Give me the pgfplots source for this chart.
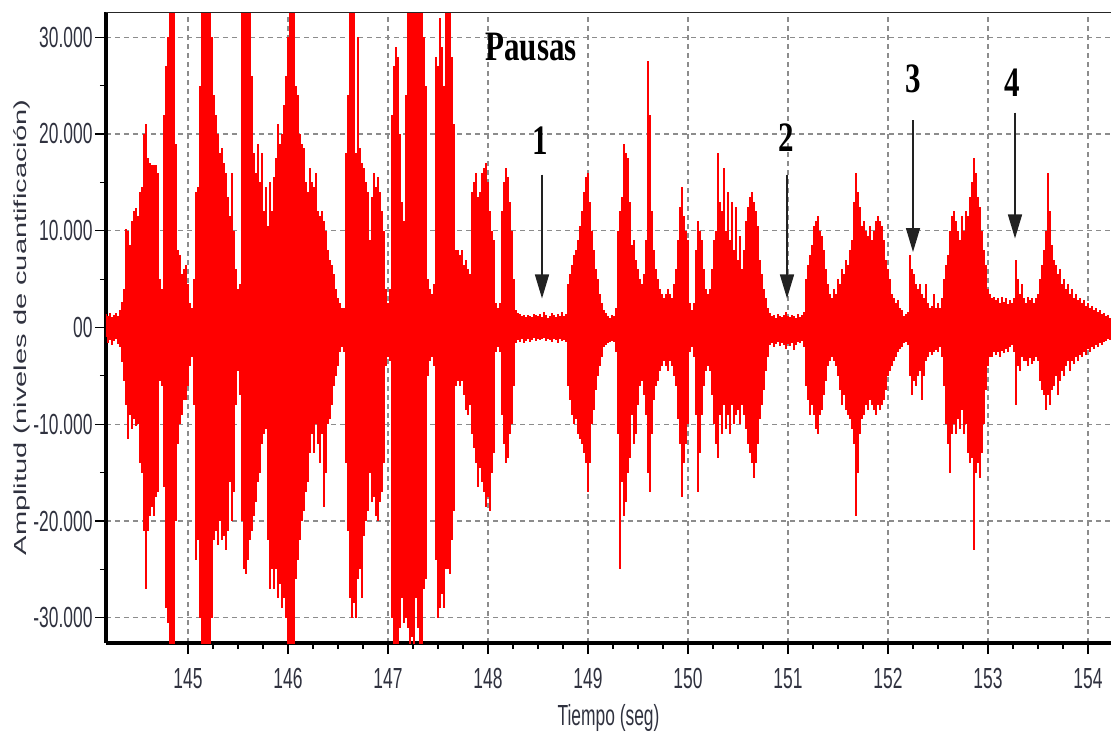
\documentclass[border=0pt]{standalone}
\usepackage{pgfplots}
\usepackage{pgfplotstable}
\pgfplotsset{compat=1.18}
\usetikzlibrary{arrows.meta}
\usepackage{fontspec}
\setmainfont{Liberation Sans}
\newfontfamily\annfont{Liberation Serif}
\definecolor{lbl}{HTML}{30323F}
\definecolor{gridgray}{HTML}{8C8C8C}
\definecolor{arrowgray}{HTML}{222222}
% screen fonts of the recorder are drawn tall and narrow
\newcommand{\tall}[1]{\scalebox{1}[1.67]{#1}}
\newcommand{\ann}[1]{\scalebox{1}[1.35]{\annfont\bfseries\fontsize{31}{34}\selectfont #1}}

% envelope of the speech signal (thousands of quantisation levels), 20 ms columns
\pgfplotstableread{
t hi lo
144.18 1.4 -1.0
144.20 1.2 -1.6
144.22 1.5 -1.3
144.24 1.1 -1.8
144.26 1.3 -1.4
144.28 1.5 -1.2
144.30 1.2 -1.7
144.32 1.8 -2.0
144.34 2.6 -3.6
144.36 4.0 -5.5
144.38 10.2 -8.0
144.40 10.0 -11.5
144.42 8.5 -9.0
144.44 11.0 -10.5
144.46 12.0 -9.5
144.48 12.3 -10.2
144.50 11.5 -10.0
144.52 14.0 -14.0
144.54 14.5 -15.0
144.56 20.0 -21.0
144.58 21.0 -27.0
144.60 17.5 -21.0
144.62 17.0 -19.5
144.64 16.8 -18.5
144.66 16.8 -19.5
144.68 16.8 -17.5
144.70 16.0 -17.0
144.72 5.0 -5.5
144.74 4.0 -6.0
144.76 22.0 -16.5
144.78 27.0 -29.0
144.80 30.0 -30.5
144.82 34 -34
144.84 34 -34
144.86 34 -34
144.88 19.0 -20.0
144.90 8.0 -12.0
144.92 7.5 -10.0
144.94 5.5 -9.0
144.96 6.0 -7.5
144.98 6.5 -7.5
145.00 4.5 -6.0
145.02 2.5 -4.0
145.04 2.0 -3.0
145.06 5.0 -8.0
145.08 14.0 -24.0
145.10 14.5 -22.0
145.12 25.0 -30.0
145.14 34 -34
145.16 34 -34
145.18 34 -34
145.20 34 -34
145.22 34 -34
145.24 30.0 -30.0
145.26 24.0 -22.0
145.28 22.0 -21.0
145.30 20.0 -22.5
145.32 18.0 -20.0
145.34 18.5 -22.0
145.36 17.0 -21.5
145.38 16.0 -23.0
145.40 13.5 -21.0
145.42 11.5 -16.0
145.44 16.0 -20.0
145.46 10.0 -17.0
145.48 6.0 -8.0
145.50 4.0 -4.5
145.52 4.5 -7.0
145.54 34 -20.0
145.56 34 -25.0
145.58 34 -25.5
145.60 34 -24.0
145.62 34 -22.0
145.64 26.0 -21.0
145.66 18.0 -19.5
145.68 16.0 -18.0
145.70 19.0 -16.0
145.72 15.0 -15.0
145.74 18.0 -12.0
145.76 12.0 -11.0
145.78 14.5 -10.5
145.80 10.5 -22.0
145.82 15.0 -27.0
145.84 12.0 -25.0
145.86 15.5 -27.0
145.88 17.5 -25.0
145.90 21.0 -28.0
145.92 19.0 -26.5
145.94 20.0 -29.0
145.96 23.0 -28.0
145.98 26.0 -30.0
146.00 30.0 -33.0
146.02 34 -34
146.04 34 -34
146.06 34 -34
146.08 25.0 -26.0
146.10 24.0 -24.0
146.12 20.0 -22.0
146.14 19.0 -20.0
146.16 18.5 -19.0
146.18 15.0 -17.0
146.20 14.0 -16.0
146.22 16.5 -13.0
146.24 15.0 -11.0
146.26 14.5 -13.0
146.28 16.0 -10.0
146.30 12.0 -12.0
146.32 11.5 -14.0
146.34 12.0 -11.0
146.36 11.0 -18.5
146.38 10.0 -15.0
146.40 8.0 -10.0
146.42 7.0 -9.5
146.44 6.5 -8.0
146.46 5.5 -6.0
146.48 4.0 -5.0
146.50 3.0 -4.0
146.52 2.5 -2.5
146.54 2.0 -2.0
146.56 2.0 -2.5
146.58 18.0 -14.0
146.60 24.0 -21.0
146.62 34 -28.0
146.64 34 -30.0
146.66 34 -28.5
146.68 18.0 -30.0
146.70 30.0 -26.0
146.72 18.5 -25.0
146.74 17.0 -28.0
146.76 16.5 -21.5
146.78 15.0 -20.0
146.80 14.0 -19.0
146.82 9.0 -15.0
146.84 13.5 -18.0
146.86 16.0 -17.5
146.88 14.5 -19.5
146.90 15.5 -20.0
146.92 14.0 -18.0
146.94 12.0 -17.0
146.96 10.0 -14.0
146.98 4.0 -4.0
147.00 2.5 -3.0
147.02 4.0 -3.5
147.04 22.0 -30.0
147.06 27.0 -33.0
147.08 29.0 -34
147.10 28.0 -34
147.12 20.0 -31.0
147.14 13.0 -28.0
147.16 11.0 -30.5
147.18 24.0 -30.0
147.20 34 -31.0
147.22 34 -34
147.24 34 -32.0
147.26 34 -33.0
147.28 34 -28.0
147.30 34 -31.0
147.32 34 -34
147.34 34 -33.0
147.36 30.0 -27.0
147.38 25.0 -26.0
147.40 5.0 -5.0
147.42 4.0 -3.5
147.44 3.5 -3.0
147.46 4.5 -4.0
147.48 28.0 -24.0
147.50 27.0 -30.0
147.52 32.0 -29.0
147.54 29.0 -27.5
147.56 25.0 -29.0
147.58 34 -25.0
147.60 34 -25.0
147.62 34 -25.5
147.64 28.0 -22.0
147.66 21.0 -19.0
147.68 8.0 -6.0
147.70 8.0 -5.5
147.72 7.5 -6.0
147.74 8.0 -5.5
147.76 6.5 -7.0
147.78 7.0 -8.5
147.80 6.0 -9.0
147.82 5.5 -8.0
147.84 14.0 -11.0
147.86 15.0 -12.5
147.88 16.0 -14.0
147.90 13.5 -16.5
147.92 14.0 -14.5
147.94 16.0 -16.0
147.96 16.5 -17.0
147.98 17.0 -18.5
148.00 15.0 -17.5
148.02 12.0 -19.0
148.04 10.0 -15.0
148.06 9.0 -13.0
148.08 2.5 -2.5
148.10 2.0 -2.0
148.12 2.5 -2.5
148.14 12.0 -9.0
148.16 15.0 -12.0
148.18 16.5 -14.0
148.20 15.5 -13.5
148.22 13.0 -11.0
148.24 10.0 -10.0
148.26 5.0 -6.0
148.28 1.8 -1.6
148.30 1.5 -1.3
148.32 1.4 -1.5
148.34 1.2 -1.2
148.36 1.3 -1.6
148.38 1.1 -1.4
148.40 1.3 -1.2
148.42 1.2 -1.5
148.44 1.1 -1.3
148.46 1.4 -1.1
148.48 1.3 -1.4
148.50 1.2 -1.2
148.52 1.4 -1.3
148.54 1.1 -1.2
148.56 1.6 -1.1
148.58 1.3 -1.4
148.60 1.0 -1.2
148.62 1.2 -1.3
148.64 1.5 -1.5
148.66 1.3 -1.2
148.68 1.1 -1.3
148.70 1.4 -1.6
148.72 1.2 -1.2
148.74 1.6 -1.4
148.76 1.2 -1.3
148.78 1.4 -1.5
148.80 4.5 -6.0
148.82 5.5 -7.5
148.84 6.5 -9.0
148.86 7.5 -10.0
148.88 8.0 -9.5
148.90 9.0 -11.0
148.92 10.5 -11.5
148.94 12.0 -12.0
148.96 14.0 -13.0
148.98 15.5 -14.0
149.00 16.0 -17.0
149.02 13.0 -14.0
149.04 10.0 -10.0
149.06 8.0 -8.5
149.08 6.0 -6.5
149.10 5.0 -5.0
149.12 3.5 -4.0
149.14 2.5 -3.0
149.16 1.8 -2.0
149.18 1.5 -1.8
149.20 1.2 -1.6
149.22 1.0 -1.5
149.24 1.3 -1.4
149.26 1.2 -1.5
149.28 2.0 -2.5
149.30 10.0 -11.0
149.32 12.0 -25.0
149.34 13.5 -16.0
149.36 19.0 -19.5
149.38 18.0 -18.0
149.40 17.5 -15.0
149.42 13.0 -13.5
149.44 8.5 -9.0
149.46 9.0 -12.0
149.48 7.0 -11.0
149.50 6.0 -8.0
149.52 5.0 -6.0
149.54 4.5 -5.5
149.56 5.5 -7.0
149.58 9.0 -9.0
149.60 27.5 -15.0
149.62 22.0 -17.0
149.64 12.0 -11.0
149.66 8.0 -7.5
149.68 6.0 -6.0
149.70 5.0 -5.5
149.72 4.0 -4.5
149.74 3.5 -4.0
149.76 3.0 -3.5
149.78 3.5 -4.0
149.80 4.0 -4.5
149.82 3.5 -3.5
149.84 3.0 -4.0
149.86 4.5 -5.0
149.88 6.0 -6.0
149.90 9.0 -9.5
149.92 12.5 -12.0
149.94 14.5 -17.5
149.96 11.5 -14.0
149.98 10.0 -12.0
150.00 9.0 -10.0
150.02 2.5 -2.5
150.04 1.8 -2.0
150.06 2.5 -3.0
150.08 8.0 -9.0
150.10 11.0 -17.0
150.12 10.0 -13.0
150.14 9.0 -9.0
150.16 6.0 -6.0
150.18 4.0 -4.5
150.20 3.5 -4.0
150.22 4.0 -4.5
150.24 6.0 -7.0
150.26 9.0 -10.0
150.28 10.0 -12.0
150.30 18.0 -13.5
150.32 13.0 -9.0
150.34 12.0 -11.0
150.36 16.5 -8.0
150.38 10.0 -10.5
150.40 14.0 -9.0
150.42 9.0 -11.0
150.44 13.0 -8.0
150.46 8.0 -10.0
150.48 12.5 -9.0
150.50 7.0 -8.5
150.52 9.5 -10.0
150.54 6.0 -8.0
150.56 8.0 -9.0
150.58 11.0 -10.5
150.60 12.5 -12.0
150.62 13.5 -13.0
150.64 14.0 -14.0
150.66 13.0 -15.5
150.68 12.0 -14.0
150.70 10.5 -12.0
150.72 7.0 -9.5
150.74 5.5 -8.0
150.76 4.0 -6.5
150.78 3.0 -4.5
150.80 2.0 -3.0
150.82 1.5 -1.8
150.84 1.2 -1.6
150.86 1.3 -2.0
150.88 1.0 -1.7
150.90 1.4 -1.5
150.92 1.2 -1.9
150.94 1.1 -1.6
150.96 1.3 -1.8
150.98 1.6 -2.2
151.00 1.2 -1.7
151.02 1.1 -1.9
151.04 1.3 -1.6
151.06 1.2 -2.3
151.08 1.0 -1.8
151.10 1.4 -1.5
151.12 1.1 -1.6
151.14 1.3 -1.4
151.16 1.6 -2.0
151.18 5.0 -6.0
151.20 6.5 -7.5
151.22 7.5 -9.0
151.24 8.5 -8.0
151.26 10.5 -9.0
151.28 11.0 -10.5
151.30 11.5 -11.0
151.32 10.0 -9.0
151.34 9.5 -8.5
151.36 8.0 -7.0
151.38 6.0 -5.5
151.40 4.5 -4.0
151.42 3.5 -3.5
151.44 3.0 -3.0
151.46 4.0 -3.5
151.48 3.5 -4.0
151.50 5.0 -5.0
151.52 4.5 -6.5
151.54 6.0 -8.0
151.56 5.5 -7.0
151.58 7.0 -8.5
151.60 6.5 -9.0
151.62 8.0 -9.5
151.64 9.0 -10.5
151.66 13.0 -12.0
151.68 16.0 -19.5
151.70 14.0 -15.0
151.72 12.5 -11.0
151.74 10.5 -9.5
151.76 11.0 -9.0
151.78 10.0 -8.0
151.80 9.5 -8.5
151.82 10.5 -7.5
151.84 9.0 -8.0
151.86 10.0 -8.5
151.88 11.0 -9.0
151.90 11.5 -8.0
151.92 11.0 -8.5
151.94 10.5 -8.0
151.96 9.0 -7.5
151.98 7.0 -6.5
152.00 6.0 -5.0
152.02 5.0 -4.5
152.04 3.5 -4.0
152.06 3.0 -3.5
152.08 2.5 -3.0
152.10 2.8 -2.5
152.12 2.0 -2.2
152.14 1.8 -2.0
152.16 1.2 -1.6
152.18 1.4 -1.5
152.20 1.6 -1.8
152.22 7.5 -5.0
152.24 6.0 -7.0
152.26 5.5 -5.5
152.28 4.5 -6.0
152.30 4.0 -5.0
152.32 4.5 -4.5
152.34 3.5 -7.5
152.36 3.0 -5.0
152.38 4.5 -3.5
152.40 2.5 -3.0
152.42 2.0 -2.5
152.44 2.2 -2.8
152.46 3.5 -2.5
152.48 2.0 -2.3
152.50 2.5 -2.5
152.52 2.0 -2.0
152.54 3.0 -3.0
152.56 5.0 -6.0
152.58 6.5 -10.0
152.60 7.5 -12.0
152.62 10.0 -15.0
152.64 11.5 -11.0
152.66 12.0 -10.0
152.68 11.0 -11.0
152.70 10.0 -9.5
152.72 9.0 -10.5
152.74 11.5 -8.5
152.76 10.0 -11.0
152.78 12.0 -10.0
152.80 11.5 -13.0
152.82 13.5 -14.0
152.84 15.0 -13.5
152.86 17.5 -23.0
152.88 16.0 -15.0
152.90 13.5 -14.0
152.92 12.5 -15.5
152.94 10.0 -13.0
152.96 8.0 -10.0
152.98 6.5 -6.5
153.00 4.0 -4.0
153.02 3.5 -3.0
153.04 3.0 -3.0
153.06 3.2 -2.5
153.08 2.8 -2.8
153.10 3.0 -2.5
153.12 2.5 -3.0
153.14 3.2 -2.4
153.16 2.6 -2.6
153.18 3.0 -2.2
153.20 2.4 -2.5
153.22 2.8 -2.0
153.24 2.5 -1.8
153.26 3.0 -2.5
153.28 7.0 -8.0
153.30 5.0 -4.0
153.32 3.5 -4.5
153.34 4.5 -3.0
153.36 3.0 -3.5
153.38 2.5 -3.5
153.40 3.2 -4.0
153.42 2.8 -3.2
153.44 3.0 -3.8
153.46 2.5 -3.5
153.48 3.0 -3.0
153.50 3.5 -3.5
153.52 5.0 -5.5
153.54 6.5 -6.5
153.56 8.0 -7.0
153.58 10.0 -8.5
153.60 16.0 -7.0
153.62 12.0 -8.0
153.64 8.5 -6.5
153.66 7.0 -6.0
153.68 6.5 -5.0
153.70 5.5 -7.0
153.72 6.0 -5.5
153.74 4.5 -4.5
153.76 5.0 -5.0
153.78 4.0 -4.0
153.80 4.5 -3.5
153.82 3.5 -4.5
153.84 4.0 -3.5
153.86 3.0 -3.8
153.88 3.5 -3.0
153.90 2.8 -3.5
153.92 3.0 -2.8
153.94 2.5 -3.0
153.96 2.8 -2.5
153.98 2.2 -2.8
154.00 2.5 -2.2
154.02 2.0 -2.5
154.04 2.2 -2.0
154.06 1.8 -2.2
154.08 2.0 -1.8
154.10 1.6 -2.0
154.12 1.8 -1.6
154.14 1.4 -1.8
154.16 1.5 -1.5
154.18 1.2 -1.4
154.20 1.3 -1.2
154.22 1.0 -1.3
}\wave

\begin{document}
\begin{tikzpicture}
\path[use as bounding box] (-106pt,-89pt) rectangle (1005pt,643pt);
\begin{axis}[
  scale only axis,
  width=1005pt, height=631pt,
  xmin=144.18, xmax=154.23,
  ymin=-32.6, ymax=32.6,
  axis lines=left,
  axis line style={-, black, line width=3.5pt},
  xtick={145,146,147,148,149,150,151,152,153,154},
  xticklabels={\tall{145},\tall{146},\tall{147},\tall{148},\tall{149},
               \tall{150},\tall{151},\tall{152},\tall{153},\tall{154}},
  ytick={-30,-20,-10,0,10,20,30},
  yticklabels={\tall{-30.000},\tall{-20.000},\tall{-10.000},\tall{00},
               \tall{10.000},\tall{20.000},\tall{30.000}},
  minor x tick num=3,
  minor y tick num=1,
  tick align=outside,
  major tick length=11pt,
  minor tick length=6pt,
  every tick/.style={black, line width=1.2pt},
  tick label style={font=\fontsize{17.4}{20}\selectfont, text=lbl},
  xticklabel style={yshift=-11pt},
  yticklabel style={xshift=1pt},
  xmajorgrids, ymajorgrids,
  major grid style={gridgray, line width=1.3pt, dash pattern=on 5pt off 4pt},
  xlabel={\tall{Tiempo (seg)}},
  xlabel style={at={(axis description cs:0.5,0)}, anchor=center,
                yshift=-75pt, font=\fontsize{17.4}{20}\selectfont, text=lbl},
  ylabel={\scalebox{1.67}[1]{Amplitud (niveles de cuantificación)}},
  ylabel style={at={(axis description cs:0,0.5)}, anchor=center,
                yshift=84pt, font=\fontsize{17.4}{20}\selectfont, text=lbl},
  clip=true,
]
\addplot[ycomb, red, line width=2.3pt, mark=none] table[x=t, y=hi] {\wave};
\addplot[ycomb, red, line width=2.3pt, mark=none] table[x=t, y=lo] {\wave};

% thin frame line along the top
\draw[black!85, line width=1.6pt] (rel axis cs:0,1) -- (rel axis cs:1,1);

% annotations of the pauses
\node[anchor=center] at (axis cs:148.43,28.96) {\ann{Pausas}};
\node[anchor=center] at (axis cs:148.52,19.3) {\ann{1}};
\node[anchor=center] at (axis cs:150.98,19.6) {\ann{2}};
\node[anchor=center] at (axis cs:152.25,25.7) {\ann{3}};
\node[anchor=center] at (axis cs:153.24,25.3) {\ann{4}};
\begin{scope}[arrowgray, line width=1.5pt, -{Triangle[width=14pt,length=24pt]}]
\draw (axis cs:148.54,15.8) -- (axis cs:148.54,3.0);
\draw (axis cs:150.99,15.8) -- (axis cs:150.99,3.0);
\draw (axis cs:152.25,21.4) -- (axis cs:152.25,7.8);
\draw (axis cs:153.27,22.2) -- (axis cs:153.27,9.2);
\end{scope}
\end{axis}
\end{tikzpicture}
\end{document}
